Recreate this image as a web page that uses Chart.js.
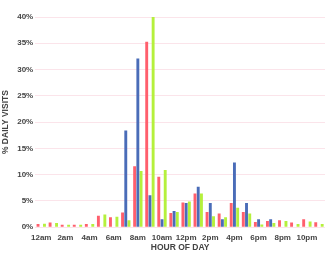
<!DOCTYPE html>
<html>
<head>
<meta charset="utf-8">
<script src="https://cdn.jsdelivr.net/npm/chart.js@4/dist/chart.umd.min.js"></script>
<style>
  html, body { margin: 0; padding: 0; background: #fff; }
  #wrap { width: 327px; height: 253px; }
</style>
</head>
<body>
<div id="wrap"><canvas id="myChart"></canvas></div>
<script>
// hour of day, 12am .. 11pm
const hours = ['12am','1am','2am','3am','4am','5am','6am','7am','8am','9am','10am','11am',
               '12pm','1pm','2pm','3pm','4pm','5pm','6pm','7pm','8pm','9pm','10pm','11pm'];

// % of daily visits per hour (null = no bar)
const redVals   = [0.6, 0.9, 0.45, 0.45, 0.6, 2.2, 1.9, 2.8, 11.6, 35.3, 9.6, 2.7,
                   4.7, 6.4, 2.9, 2.6, 4.6, 2.9, 1.0, 1.2, 1.3, 0.9, 1.5, 0.95];
const blueVals  = [null, null, null, null, null, null, null, 18.4, 32.1, 6.1, 1.5, 3.1,
                   4.6, 7.7, 4.6, 1.5, 12.3, 4.6, 1.5, 1.5, null, null, null, null];
const greenVals = [0.65, 0.8, 0.45, 0.45, 0.6, 2.4, 2.0, 1.3, 10.7, 40.3, 10.9, 2.9,
                   4.9, 6.4, 2.1, 1.9, 3.7, 2.6, 0.5, 0.8, 1.2, 0.6, 1.1, 0.6];

const yTicks = [0, 5, 10, 15, 20, 25, 30, 35, 40];

const tickFont = { family: 'Liberation Sans', size: 8, weight: 'bold' };
const titleFont = { family: 'Liberation Sans', size: 8.5, weight: 'bold' };

const ctx = document.getElementById('myChart');

new Chart(ctx, {
  type: 'bar',
  data: {
    labels: hours,
    datasets: [
      { label: 'A', data: redVals, backgroundColor: '#ff5f6d' },
      { label: 'B', data: blueVals, backgroundColor: '#4a6cb8' },
      { label: 'C', data: greenVals, backgroundColor: '#b5f03c' }
    ]
  },
  options: {
    responsive: true,
    maintainAspectRatio: false,
    animation: false,
    layout: { padding: { top: 17, right: 2, left: 1, bottom: 0 } },
    plugins: {
      legend: { display: false },
      tooltip: { enabled: false }
    },
    datasets: {
      bar: { categoryPercentage: 0.8, barPercentage: 0.9 }
    },
    scales: {
      x: {
        grid: { display: false, drawTicks: false },
        border: { display: false },
        ticks: {
          color: '#444',
          font: tickFont,
          maxRotation: 0,
          autoSkip: false,
          padding: 6,
          callback: function(v, i) { return i % 2 === 0 ? hours[i] : ''; }
        },
        title: {
          display: true,
          text: 'HOUR OF DAY',
          color: '#444',
          font: titleFont,
          padding: { top: -6, bottom: 0 }
        }
      },
      y: {
        min: 0,
        max: 40,
        afterBuildTicks: function(axis) {
          axis.ticks = yTicks.map(v => ({ value: v }));
        },
        grid: { color: '#fbe4ea', drawTicks: false },
        border: { display: false },
        ticks: {
          color: '#444',
          font: tickFont,
          padding: 2,
          callback: v => v + '%'
        },
        title: {
          display: true,
          text: '% DAILY VISITS',
          color: '#444',
          font: titleFont,
          padding: { top: 0, bottom: 4 }
        }
      }
    }
  }
});
</script>
</body>
</html>
